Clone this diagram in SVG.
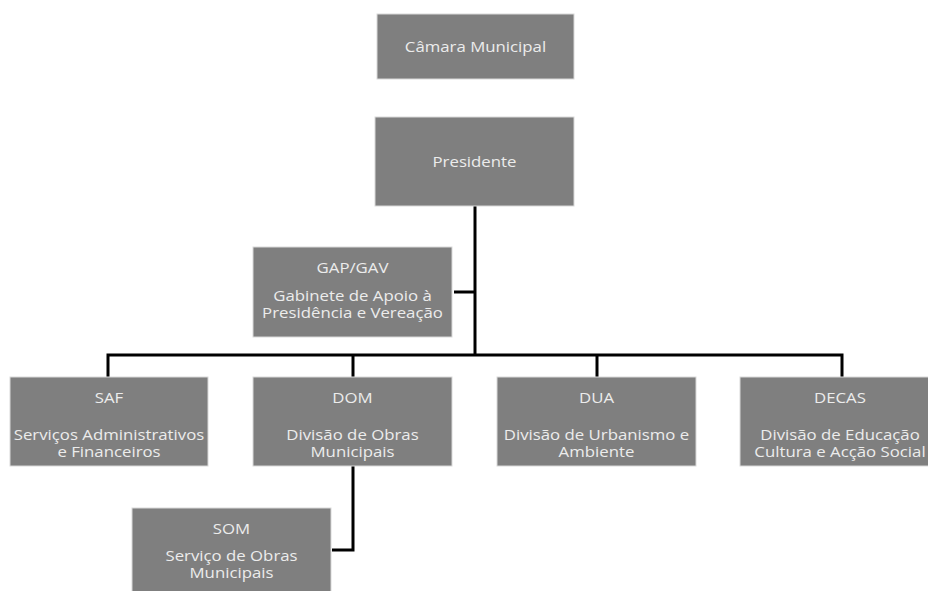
<svg xmlns="http://www.w3.org/2000/svg" width="928" height="591" viewBox="0 0 928 591">
<style>
.box{fill:#7f7f7f;stroke:#d9d9d9;stroke-width:1}
.t{font-family:"Open Sans","Noto Sans",sans-serif;font-size:15px;fill:#ececec;text-anchor:middle}
.c{stroke:#000;stroke-width:3;fill:none}
</style>
<rect width="928" height="591" fill="#fff"/>
<g id="connectors">
<path class="c" d="M475 206 V355"/>
<path class="c" d="M454 292 H475"/>
<path class="c" d="M108 377 V355 H842 V377"/>
<path class="c" d="M353 355 V377"/>
<path class="c" d="M597 355 V377"/>
<path class="c" d="M353 466 V550 H332"/>
</g>
<g id="camara"><rect class="box" x="377" y="14" width="197" height="65"/><text class="t" transform="translate(475.5 52) scale(1.12 1)">Câmara Municipal</text></g>
<g id="presidente"><rect class="box" x="375" y="117" width="199" height="89"/><text class="t" transform="translate(474.5 167) scale(1.12 1)">Presidente</text></g>
<g id="gap"><rect class="box" x="253" y="247" width="199" height="90"/><text class="t" transform="translate(352.5 273) scale(1.12 1)">GAP/GAV</text><text class="t" transform="translate(352.5 301) scale(1.12 1)">Gabinete de Apoio à</text><text class="t" transform="translate(352.5 318) scale(1.12 1)">Presidência e Vereação</text></g>
<g id="saf"><rect class="box" x="10" y="377" width="198" height="89"/><text class="t" transform="translate(109 403) scale(1.12 1)">SAF</text><text class="t" transform="translate(109 440) scale(1.12 1)">Serviços Administrativos</text><text class="t" transform="translate(109 457) scale(1.12 1)">e Financeiros</text></g>
<g id="dom"><rect class="box" x="253" y="377" width="199" height="89"/><text class="t" transform="translate(352.5 403) scale(1.12 1)">DOM</text><text class="t" transform="translate(352.5 440) scale(1.12 1)">Divisão de Obras</text><text class="t" transform="translate(352.5 457) scale(1.12 1)">Municipais</text></g>
<g id="dua"><rect class="box" x="497" y="377" width="199" height="89"/><text class="t" transform="translate(596.5 403) scale(1.12 1)">DUA</text><text class="t" transform="translate(596.5 440) scale(1.12 1)">Divisão de Urbanismo e</text><text class="t" transform="translate(596.5 457) scale(1.12 1)">Ambiente</text></g>
<g id="decas"><rect class="box" x="740" y="377" width="199" height="89"/><text class="t" transform="translate(840 403) scale(1.12 1)">DECAS</text><text class="t" transform="translate(840 440) scale(1.12 1)">Divisão de Educação</text><text class="t" transform="translate(840 457) scale(1.12 1)">Cultura e Acção Social</text></g>
<g id="som"><rect class="box" x="132" y="508" width="199" height="90"/><text class="t" transform="translate(231.5 534) scale(1.12 1)">SOM</text><text class="t" transform="translate(231.5 561) scale(1.12 1)">Serviço de Obras</text><text class="t" transform="translate(231.5 578) scale(1.12 1)">Municipais</text></g>
</svg>
